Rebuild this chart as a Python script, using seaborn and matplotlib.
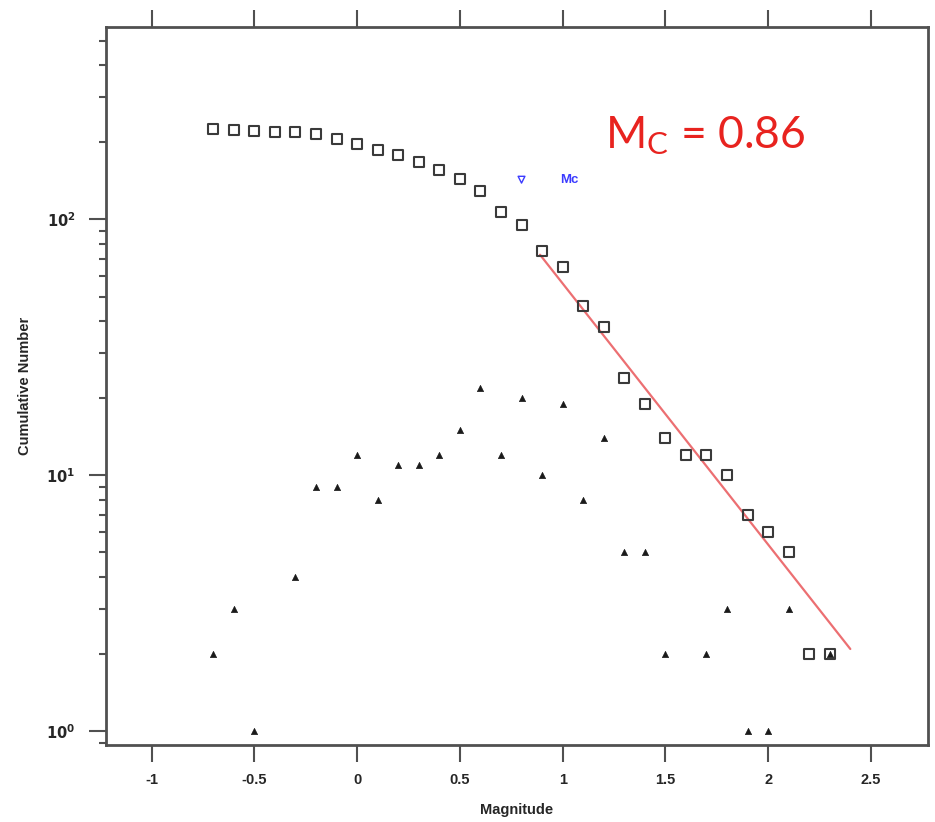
import numpy as np
import pandas as pd
import matplotlib
matplotlib.use("Agg")
import matplotlib.pyplot as plt
import matplotlib.ticker as mticker
import seaborn as sns

## Data
magnitude = [-0.7, -0.6, -0.5, -0.4, -0.3, -0.2, -0.1, 0.0, 0.1, 0.2, 0.3, 0.4,
             0.5, 0.6, 0.7, 0.8, 0.9, 1.0, 1.1, 1.2, 1.3, 1.4, 1.5, 1.6, 1.7,
             1.8, 1.9, 2.0, 2.1, 2.2, 2.3]
cumulative = [226, 224, 221, 220, 220, 216, 207, 198, 186, 178, 167, 156,
              144, 129, 107, 95, 75, 65, 46, 38, 24, 19, 14, 12, 12,
              10, 7, 6, 5, 2, 2]
# non-cumulative counts (zero bins are not drawn on a log axis)
noncum_mag = [-0.7, -0.6, -0.5, -0.3, -0.2, -0.1, 0.0, 0.1, 0.2, 0.3, 0.4, 0.5,
              0.6, 0.7, 0.8, 0.9, 1.0, 1.1, 1.2, 1.3, 1.4, 1.5, 1.7, 1.8,
              1.9, 2.0, 2.1, 2.3]
noncum = [2, 3, 1, 4, 9, 9, 12, 8, 11, 11, 12, 15,
          22, 12, 20, 10, 19, 8, 14, 5, 5, 2, 2, 3,
          1, 1, 3, 2]

# Gutenberg-Richter fit  log10 N = a - b M
a_value = 2.77
b_value = 1.02
fit_mag = [0.89, 2.40]
mc_value = 0.86
mc_marker_mag = 0.80
mc_marker_n = 143

fit_n = [10 ** (a_value - b_value * m) for m in fit_mag]

sns.set_style("ticks")
plt.rcParams["font.family"] = ["Liberation Sans", "DejaVu Sans"]

fig = plt.figure(figsize=(9.35, 8.22), dpi=100)
ax = fig.add_axes([0.1134, 0.0937, 0.8791, 0.8735])

df_cum = pd.DataFrame({"Magnitude": magnitude, "N": cumulative})
df_non = pd.DataFrame({"Magnitude": noncum_mag, "N": noncum})
df_fit = pd.DataFrame({"Magnitude": fit_mag, "N": fit_n})

sns.lineplot(data=df_fit, x="Magnitude", y="N", ax=ax, color="#ec6f72",
             linewidth=1.6, zorder=1)
sns.scatterplot(data=df_cum, x="Magnitude", y="N", ax=ax, marker="s", s=52,
                facecolor="none", edgecolor="#3a3a3a", linewidth=1.5, zorder=3)
sns.scatterplot(data=df_non, x="Magnitude", y="N", ax=ax, marker="^", s=20,
                color="#1a1a1a", edgecolor="#1a1a1a", linewidth=0.5, zorder=4)
sns.scatterplot(x=[mc_marker_mag], y=[mc_marker_n], ax=ax, marker="v", s=24,
                facecolor="none", edgecolor="#3b3bff", linewidth=1.0, zorder=4)

ax.text(0.99, mc_marker_n, "Mc", color="#3b3bff", fontsize=9.5, fontweight="bold",
        va="center", ha="left")
ax.text(1.205, 190, r"$\mathregular{M_C}$ = %.2f" % mc_value, color="#e8231f",
        fontsize=32, family=["Lato", "DejaVu Sans"], va="baseline", ha="left")

ax.set_yscale("log")
ax.set_xlim(-1.222, 2.778)
ax.set_ylim(0.885, 565)

ax.xaxis.set_major_locator(mticker.MultipleLocator(0.5))
ax.xaxis.set_major_formatter(mticker.FuncFormatter(lambda v, p: "%g" % v))
ax.yaxis.set_major_locator(mticker.LogLocator(base=10))
ax.yaxis.set_minor_locator(mticker.LogLocator(base=10, subs=np.arange(2, 10)))
ax.yaxis.set_major_formatter(mticker.FuncFormatter(
    lambda v, p: r"$\mathbf{10^{%d}}$" % round(np.log10(v))))
ax.yaxis.set_minor_formatter(mticker.NullFormatter())

for s in ax.spines.values():
    s.set_color("#505050")
    s.set_linewidth(2)

ax.tick_params(axis="x", which="major", top=True, bottom=True, direction="out",
               length=12, width=1.5, color="#505050", labelsize=10.5, pad=8)
ax.tick_params(axis="y", which="major", left=True, direction="out",
               length=12, width=1.5, color="#505050", labelsize=10.5, pad=10)
ax.tick_params(axis="y", which="minor", left=True, direction="out",
               length=5, width=1.5, color="#505050")
for lab in ax.get_xticklabels() + ax.get_yticklabels():
    lab.set_fontweight("bold")

ax.set_xlabel("Magnitude", fontsize=10.5, fontweight="bold", labelpad=12)
ax.set_ylabel("Cumulative Number", fontsize=10.5, fontweight="bold", labelpad=10)

fig.savefig("out.png", dpi=100)
